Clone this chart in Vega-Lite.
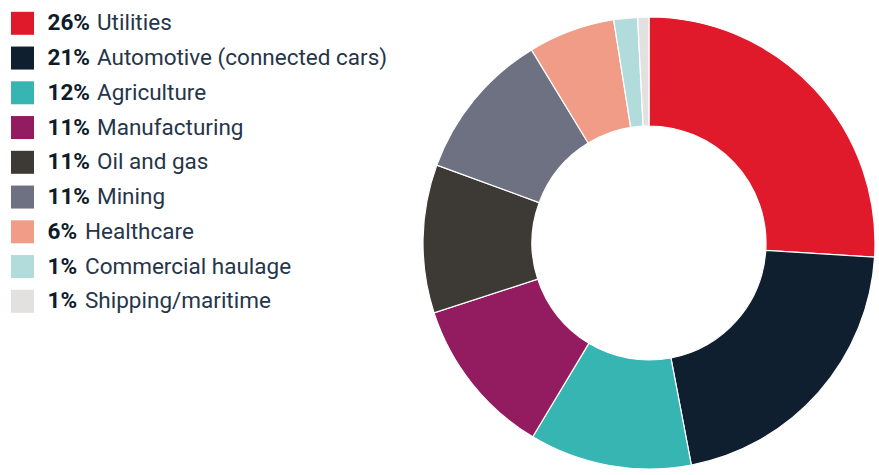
{
  "$schema": "https://vega.github.io/schema/vega-lite/v6.json",
  "width": 879,
  "height": 475,
  "padding": 0,
  "autosize": {"type": "fit", "contains": "padding"},
  "background": "white",
  "config": {"view": {"stroke": null}},
  "data": {
    "values": [
      {"ord": 1, "sector": "Utilities", "pct": "26%", "share": 26.0},
      {"ord": 2, "sector": "Automotive (connected cars)", "pct": "21%", "share": 21.0},
      {"ord": 3, "sector": "Agriculture", "pct": "12%", "share": 11.6},
      {"ord": 4, "sector": "Manufacturing", "pct": "11%", "share": 11.4},
      {"ord": 5, "sector": "Oil and gas", "pct": "11%", "share": 10.6},
      {"ord": 6, "sector": "Mining", "pct": "11%", "share": 10.7},
      {"ord": 7, "sector": "Healthcare", "pct": "6%", "share": 6.2},
      {"ord": 8, "sector": "Commercial haulage", "pct": "1%", "share": 1.7},
      {"ord": 9, "sector": "Shipping/maritime", "pct": "1%", "share": 0.8}
    ]
  },
  "encoding": {
    "color": {
      "field": "sector",
      "type": "nominal",
      "legend": null,
      "scale": {
        "domain": ["Utilities", "Automotive (connected cars)", "Agriculture", "Manufacturing", "Oil and gas", "Mining", "Healthcare", "Commercial haulage", "Shipping/maritime"],
        "range": ["#e01a2b", "#0f1f2f", "#36b5b3", "#931b5f", "#3d3935", "#6e7181", "#f09c87", "#b2dcdc", "#e2e1df"]
      }
    }
  },
  "layer": [
    {
      "mark": {"type": "arc", "x": 649, "y": 243, "outerRadius": 226, "innerRadius": 117, "stroke": "white", "strokeWidth": 1.2},
      "encoding": {
        "theta": {"field": "share", "type": "quantitative", "stack": true},
        "order": {"field": "ord", "type": "quantitative"}
      }
    },
    {
      "mark": {"type": "square", "size": 529, "filled": true, "opacity": 1},
      "encoding": {
        "x": {"value": 22.5},
        "y": {"field": "sector", "type": "nominal", "sort": null, "axis": null, "scale": {"type": "point", "range": [23.3, 301.3], "padding": 0}}
      }
    },
    {
      "mark": {"type": "text", "align": "left", "baseline": "middle", "font": "Roboto", "fontWeight": "bold", "fontSize": 22.5},
      "encoding": {
        "x": {"value": 47.5},
        "y": {"field": "sector", "type": "nominal", "sort": null, "axis": null},
        "text": {"field": "pct"},
        "color": {"value": "#0d1b2a"}
      }
    },
    {
      "transform": [{"filter": "datum.ord <= 6"}],
      "mark": {"type": "text", "align": "left", "baseline": "middle", "font": "Roboto", "fontSize": 22.5},
      "encoding": {
        "x": {"value": 97},
        "y": {"field": "sector", "type": "nominal", "sort": null, "axis": null},
        "text": {"field": "sector"},
        "color": {"value": "#26354a"}
      }
    },
    {
      "transform": [{"filter": "datum.ord > 6"}],
      "mark": {"type": "text", "align": "left", "baseline": "middle", "font": "Roboto", "fontSize": 22.5},
      "encoding": {
        "x": {"value": 85},
        "y": {"field": "sector", "type": "nominal", "sort": null, "axis": null},
        "text": {"field": "sector"},
        "color": {"value": "#26354a"}
      }
    }
  ]
}
